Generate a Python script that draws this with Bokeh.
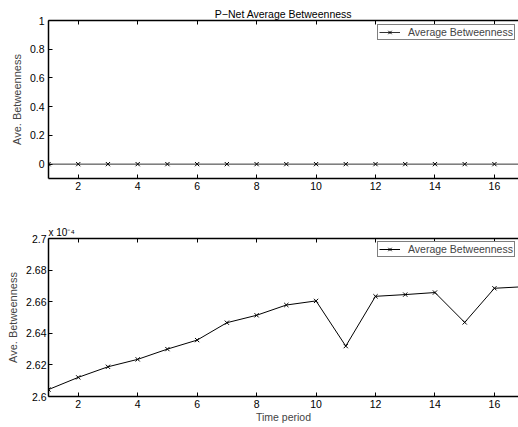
from bokeh.plotting import figure
from bokeh.layouts import column
from bokeh.models import (Range1d, LinearAxis, FixedTicker, Legend, LegendItem, Title)
from bokeh.embed import file_html
from bokeh.resources import INLINE

# ---------------- data ----------------
periods = [1, 2, 3, 4, 5, 6, 7, 8, 9, 10, 11, 12, 13, 14, 15, 16, 17]
pnet_betweenness = [0, 0, 0, 0, 0, 0, 0, 0, 0, 0, 0, 0, 0, 0, 0, 0, 0]
# second panel, in units of 1e-4
avg_betweenness_e4 = [2.6044, 2.6121, 2.6188, 2.6235, 2.6300, 2.6357, 2.6467,
                      2.6514, 2.6579, 2.6605, 2.6319, 2.6634, 2.6645, 2.6658,
                      2.6469, 2.6685, 2.6695]
x_ticks = [2, 4, 6, 8, 10, 12, 14, 16]
top_y_ticks = [0, 0.2, 0.4, 0.6, 0.8, 1]
top_y_labels = ["0", "0.2", "0.4", "0.6", "0.8", "1"]
bot_y_ticks = [2.6, 2.62, 2.64, 2.66, 2.68, 2.7]
bot_y_labels = ["2.6", "2.62", "2.64", "2.66", "2.68", "2.7"]
title_text = "P\u2212Net Average Betweenness"
exponent_text = "x 10\u207b\u2074"
series_name = "Average Betweenness"
y_label = "Ave. Betweenness"
x_label = "Time period"

FONT = "Liberation Sans"
X0, X1 = 1, 16.81


def style(p, yticks, ylabels, ystandoff):
    p.outline_line_color = None
    p.xgrid.visible = False
    p.ygrid.visible = False
    for ax in p.xaxis + p.yaxis:
        ax.axis_line_width = 1.5
        ax.axis_line_color = "black"
        ax.major_tick_in = 4
        ax.major_tick_out = 0
        ax.major_tick_line_color = "black"
        ax.minor_tick_line_color = None
        ax.major_label_text_font = FONT
        ax.major_label_text_font_size = "10.5px"
        ax.major_label_text_color = "black"
    p.xaxis.ticker = FixedTicker(ticks=x_ticks)
    p.xaxis.major_label_standoff = 3
    p.yaxis.ticker = FixedTicker(ticks=yticks)
    p.yaxis.major_label_overrides = {t: l for t, l in zip(yticks, ylabels)}
    p.yaxis.major_label_standoff = ystandoff
    p.yaxis.axis_label = y_label
    p.yaxis.axis_label_text_font = FONT
    p.yaxis.axis_label_text_font_size = "11px"
    p.yaxis.axis_label_text_font_style = "normal"
    p.yaxis.axis_label_standoff = 4
    top = LinearAxis(ticker=FixedTicker(ticks=x_ticks),
                     major_label_text_font_size="1px",
                     major_label_text_color=None, major_label_standoff=0,
                     major_tick_in=4, major_tick_out=0, axis_line_width=1.5,
                     axis_line_color="black", major_tick_line_color="black",
                     minor_tick_line_color=None)
    p.add_layout(top, "above")


def make_legend(p, renderers, loc):
    leg = Legend(items=[LegendItem(label=series_name, renderers=renderers)],
                 location=loc, margin=0, padding=1,
                 glyph_width=21, glyph_height=12, label_height=12,
                 label_standoff=8, border_line_color="black",
                 border_line_width=1, label_text_font=FONT,
                 label_text_font_size="10.5px", background_fill_color="white",
                 background_fill_alpha=1)
    p.add_layout(leg)


# ---------------- top panel ----------------
p1 = figure(width=518, height=208, output_backend="svg", toolbar_location=None,
            x_range=Range1d(X0, X1), y_range=Range1d(-0.1, 1),
            min_border_left=48, min_border_right=0, min_border_top=20,
            min_border_bottom=30, title=None)
style(p1, top_y_ticks, top_y_labels, 4)
l1 = p1.line(periods, pnet_betweenness, line_color="#333333", line_width=1)
m1 = p1.scatter(periods, pnet_betweenness, marker="x", size=6,
                line_color="black", line_width=1)
make_legend(p1, [l1, m1], (329, 138))
p1.add_layout(Title(text=title_text, align="center", text_font=FONT,
                    text_font_size="10.5px", text_font_style="normal",
                    text_color="black", standoff=1), "above")

# ---------------- bottom panel ----------------
p2 = figure(width=518, height=219, output_backend="svg", toolbar_location=None,
            x_range=Range1d(X0, X1), y_range=Range1d(2.6, 2.7),
            min_border_left=48, min_border_right=0, min_border_top=30,
            min_border_bottom=31, title=None)
style(p2, bot_y_ticks, bot_y_labels, 2)
bottom_axis = p2.below[0]
bottom_axis.axis_label = x_label
bottom_axis.axis_label_text_font = FONT
bottom_axis.axis_label_text_font_size = "10.5px"
bottom_axis.axis_label_text_font_style = "normal"
bottom_axis.axis_label_standoff = 0
l2 = p2.line(periods, avg_betweenness_e4, line_color="black", line_width=1)
m2 = p2.scatter(periods, avg_betweenness_e4, marker="x", size=6,
                line_color="black", line_width=1)
make_legend(p2, [l2, m2], (329, 139))
p2.add_layout(Title(text=exponent_text, align="left", text_font=FONT,
                    text_font_size="10px", text_font_style="normal",
                    text_color="black", standoff=2), "above")

layout = column(p1, p2, spacing=0)
open("out.html", "w").write(file_html(layout, INLINE))
